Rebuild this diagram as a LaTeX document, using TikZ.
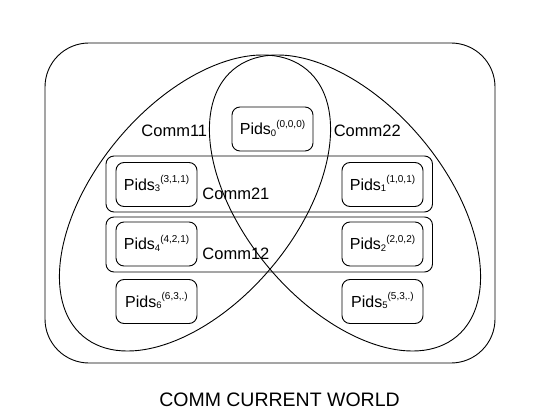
\documentclass[tikz,border=0pt]{standalone}
\usepackage{fontspec}
\setmainfont{Liberation Sans}
\newcommand\pidlbl[2]{Pids\smash{\raisebox{-1.7pt}{\fontsize{9.5}{9.5}\selectfont #1}\raisebox{7.5pt}{\fontsize{10}{10}\selectfont #2}}}
\tikzset{
  pidbox/.style={draw, rounded corners=8pt, minimum width=81pt, minimum height=44pt, inner sep=0pt, font=\fontsize{16}{19}\selectfont},
  rowbox/.style={draw, rounded corners=8pt, minimum width=326.5pt, inner sep=0pt},
  commlbl/.style={anchor=base west, inner sep=0pt, font=\fontsize{16.5}{19}\selectfont},
}
\begin{document}
\begin{tikzpicture}[x=1pt,y=-1pt,line width=0.9pt]
\useasboundingbox (0,0) rectangle (538,414);
% outer world
\node[draw, rounded corners=44pt, minimum width=450pt, minimum height=320pt, inner sep=0pt] (world) at (270,203) {};
% communicator ellipses
\coordinate (cl) at (195,203);
\coordinate (cr) at (345,203);
\draw[rotate around={50:(cl)}] (cl) ellipse [x radius=174, y radius=100];
\draw[rotate around={-50:(cr)}] (cr) ellipse [x radius=174, y radius=100];
% rows
\node[rowbox, minimum height=56pt] (r21) at (269.25,184) {};
\node[rowbox, minimum height=55pt] (r12) at (269.25,244.5) {};
% processes
\node[pidbox] (p0) at (272.5,129) {\pidlbl{0}{(0,0,0)}};
\node[pidbox] (p3) at (156.5,184.5) {\pidlbl{3}{(3,1,1)}};
\node[pidbox] (p1) at (382.5,184.5) {\pidlbl{1}{(1,0,1)}};
\node[pidbox] (p4) at (156.5,244) {\pidlbl{4}{(4,2,1)}};
\node[pidbox] (p2) at (382.5,244) {\pidlbl{2}{(2,0,2)}};
\node[pidbox] (p6) at (156.5,301.5) {\pidlbl{6}{(6,3,.)}};
\node[pidbox] (p5) at (382.5,301.5) {\pidlbl{5}{(5,3,.)}};
% labels
\node[commlbl] (c11) at (141,137) {Comm11};
\node[commlbl] (c22) at (333.3,137) {Comm22};
\node[commlbl] (c21) at (202,199.3) {Comm21};
\node[commlbl] (c12) at (202,259.3) {Comm12};
\node[anchor=base, inner sep=0pt, font=\fontsize{19.5}{22}\selectfont] (title) at (279.5,406.7) {COMM CURRENT WORLD};
\end{tikzpicture}
\end{document}
